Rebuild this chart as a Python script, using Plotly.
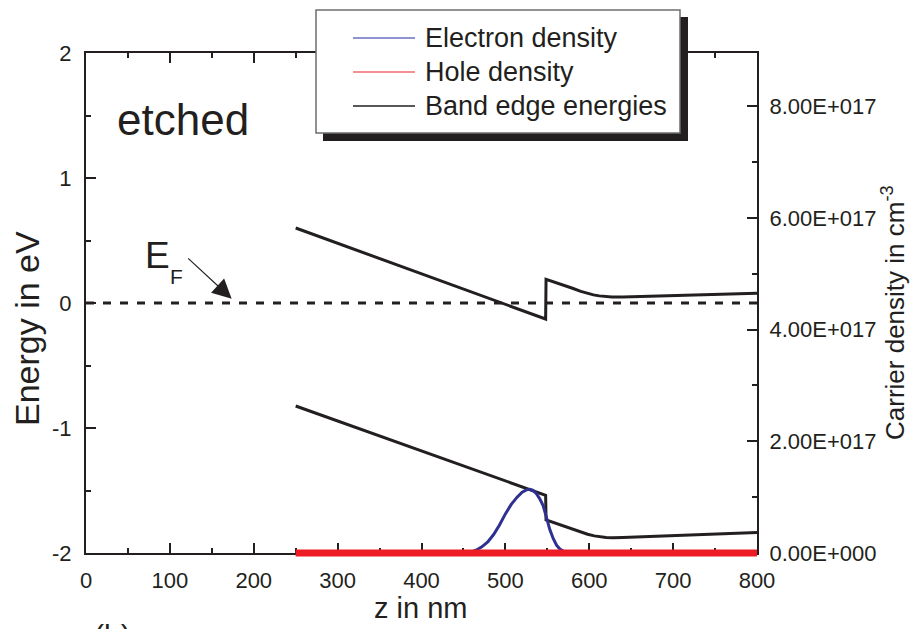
import plotly.graph_objects as go

# ---------------- data ----------------
# Fermi level
z_ef = [0, 800]
e_ef = [0.0, 0.0]

# Conduction band edge (eV)
z_cb = [250, 548, 548.5, 564, 580, 590, 598, 605, 612, 619, 627, 640, 800]
e_cb = [0.60, -0.128, 0.19, 0.157, 0.118, 0.093, 0.076, 0.065, 0.057, 0.052, 0.049, 0.049, 0.078]

# Valence band edge (eV)
z_vb = [250, 548, 548.5, 570, 588, 598, 606, 613, 620, 628, 640, 800]
e_vb = [-0.824, -1.538, -1.735, -1.785, -1.828, -1.850, -1.863, -1.871, -1.876, -1.878, -1.876, -1.835]

# Electron density (cm^-3)
z_n = [250, 450, 458, 465, 472, 479, 486, 493, 500, 507, 514, 520, 525, 529, 533, 537,
       541, 545, 549, 553, 557, 561, 565, 570, 577, 585, 800]
n_e = [0, 0, 0.01e17, 0.05e17, 0.11e17, 0.20e17, 0.33e17, 0.50e17, 0.70e17, 0.87e17,
       1.00e17, 1.09e17, 1.13e17, 1.14e17, 1.12e17, 1.06e17, 0.97e17, 0.85e17, 0.62e17,
       0.42e17, 0.26e17, 0.14e17, 0.07e17, 0.025e17, 0.005e17, 0, 0]

# Hole density (cm^-3)
z_p = [250, 800]
p_h = [0.0, 0.0]

# Axis ticks
x_tickvals = [0, 100, 200, 300, 400, 500, 600, 700, 800]
y_tickvals = [-2, -1, 0, 1, 2]
y_ticktext = ["-2", "-1", "0", "1", "2"]
y2_tickvals = [0, 2e17, 4e17, 6e17, 8e17]
y2_ticktext = ["0.00E+000", "2.00E+017", "4.00E+017", "6.00E+017", "8.00E+017"]

legend_names = ["Electron density", "Hole density", "Band edge energies"]

# ---------------- styling ----------------
INK = "#231f20"
BLUE = "#2e3192"
RED = "#ed1c24"
FONT = "Liberation Sans, Arial, sans-serif"

W, H = 911, 629
L, R, T, B = 86, 911 - 757, 53, 72
PW, PH = W - L - R, H - T - B
Y2MAX = 8.95e17
extra = 4  # px below the frame into which the thick red line may spill


def px(x):
    return (x - L) / PW


def py(y):
    return (H - B - y) / PH


fig = go.Figure()

fig.add_trace(go.Scatter(x=z_ef, y=e_ef, mode="lines", showlegend=False,
                         line=dict(color=INK, width=3, dash="8px,9px"), yaxis="y"))
fig.add_trace(go.Scatter(x=z_cb, y=e_cb, mode="lines", name=legend_names[2], showlegend=False,
                         line=dict(color=INK, width=3), yaxis="y"))
fig.add_trace(go.Scatter(x=z_vb, y=e_vb, mode="lines", showlegend=False,
                         line=dict(color=INK, width=3), yaxis="y"))
fig.add_trace(go.Scatter(x=z_n, y=n_e, mode="lines", name=legend_names[0], showlegend=False,
                         line=dict(color=BLUE, width=3), yaxis="y2"))
fig.add_trace(go.Scatter(x=z_p, y=p_h, mode="lines", name=legend_names[1], showlegend=False,
                         line=dict(color=RED, width=7), yaxis="y3"))

tickfont = dict(family=FONT, size=22, color=INK)

fig.update_layout(
    width=W, height=H,
    margin=dict(l=L, r=R, t=T, b=B, pad=0),
    paper_bgcolor="white",
    plot_bgcolor="rgba(0,0,0,0)",
    showlegend=False,
    xaxis=dict(
        range=[0, 800], domain=[0, 1], anchor="y",
        showline=True, linewidth=2, linecolor=INK, mirror="ticks",
        ticks="inside", ticklen=10, tickwidth=2, tickcolor=INK,
        tickvals=x_tickvals,
        minor=dict(ticks="inside", ticklen=5, tickwidth=2, tickcolor=INK, dtick=50),
        showgrid=False, zeroline=False, tickfont=tickfont,
        ticklabelstandoff=7, layer="below traces",
    ),
    yaxis=dict(
        range=[-2, 2], domain=[extra / PH, 1], anchor="x",
        showline=True, linewidth=2, linecolor=INK, mirror=False,
        ticks="inside", ticklen=10, tickwidth=2, tickcolor=INK,
        tickvals=y_tickvals, ticktext=y_ticktext,
        minor=dict(ticks="inside", ticklen=5, tickwidth=2, tickcolor=INK, dtick=0.5),
        showgrid=False, zeroline=False, tickfont=tickfont,
        ticklabelstandoff=8, layer="below traces",
    ),
    yaxis2=dict(
        range=[0, Y2MAX], overlaying="y", side="right", anchor="x",
        showline=True, linewidth=2, linecolor=INK,
        ticks="inside", ticklen=10, tickwidth=2, tickcolor=INK,
        tickvals=y2_tickvals, ticktext=y2_ticktext,
        minor=dict(ticks="inside", ticklen=5, tickwidth=2, tickcolor=INK,
                   tickvals=[1e17, 3e17, 5e17, 7e17]),
        showgrid=False, zeroline=False, tickfont=tickfont,
        ticklabelstandoff=6, layer="below traces",
    ),
    yaxis3=dict(
        range=[-Y2MAX * extra / (PH - extra), Y2MAX], domain=[0, 1], anchor="x",
        visible=False, showgrid=False, zeroline=False,
    ),
)

# ---------- legend box (manual, with drop shadow) ----------
fig.add_shape(type="rect", xref="paper", yref="paper",
              x0=px(323), x1=px(688), y0=py(141), y1=py(17),
              fillcolor=INK, line=dict(width=0), layer="above")
fig.add_shape(type="rect", xref="paper", yref="paper",
              x0=px(316), x1=px(680), y0=py(133), y1=py(10),
              fillcolor="white", line=dict(color="#6d6e71", width=1.5), layer="above")
leg_colors = ["#6a6fc0", "#f06a70", INK]
leg_y = [38, 72, 106]
for name, col, yy in zip(legend_names, leg_colors, leg_y):
    fig.add_shape(type="line", xref="paper", yref="paper",
                  x0=px(353), x1=px(415), y0=py(yy), y1=py(yy),
                  line=dict(color=col, width=1.5), layer="above")
    fig.add_annotation(xref="paper", yref="paper", x=px(423), y=py(yy),
                       text=name, showarrow=False, xanchor="left", yanchor="middle",
                       font=dict(family=FONT, size=27, color=INK))

# ---------- texts ----------
fig.add_annotation(xref="paper", yref="paper", x=px(183), y=py(120), text="etched",
                   showarrow=False, xanchor="center", yanchor="middle",
                   font=dict(family=FONT, size=44, color=INK))
fig.add_annotation(xref="paper", yref="paper", x=px(157), y=py(255), text="E",
                   showarrow=False, xanchor="center", yanchor="middle",
                   font=dict(family=FONT, size=37, color=INK))
fig.add_annotation(xref="paper", yref="paper", x=px(176), y=py(276), text="F",
                   showarrow=False, xanchor="center", yanchor="middle",
                   font=dict(family=FONT, size=21, color=INK))
fig.add_annotation(x=173.7, y=0.035, xref="x", yref="y", ax=120, ay=0.368,
                   axref="x", ayref="y", text="", showarrow=True,
                   arrowhead=2, arrowsize=3.2, arrowwidth=1.2, arrowcolor=INK, standoff=0)

fig.add_annotation(xref="paper", yref="paper", x=px(27), y=py(329), text="Energy in eV",
                   showarrow=False, textangle=-90, xanchor="center", yanchor="middle",
                   font=dict(family=FONT, size=34, color=INK))
fig.add_annotation(xref="paper", yref="paper", x=px(420), y=py(608), text="z in nm",
                   showarrow=False, xanchor="center", yanchor="middle",
                   font=dict(family=FONT, size=29, color=INK))
fig.add_annotation(xref="paper", yref="paper", x=px(893), y=py(313),
                   text="Carrier density in cm<sup>-3</sup>",
                   showarrow=False, textangle=-90, xanchor="center", yanchor="middle",
                   font=dict(family=FONT, size=26, color=INK))
fig.add_annotation(xref="paper", yref="paper", x=px(112), y=py(617), text="(b)",
                   showarrow=False, xanchor="center", yanchor="top",
                   font=dict(family=FONT, size=30, color=INK))

fig.write_html("out.html")
